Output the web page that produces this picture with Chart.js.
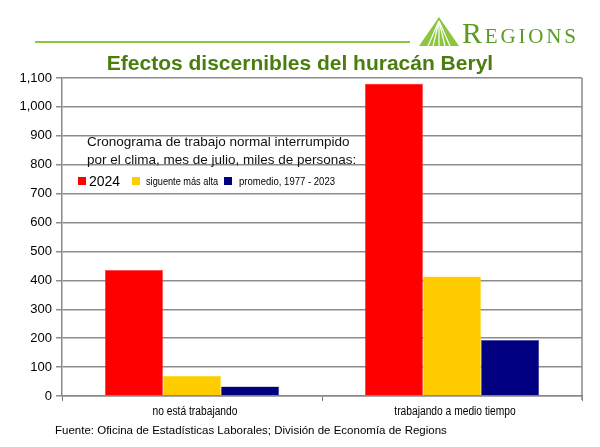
<!DOCTYPE html>
<html><head><meta charset="utf-8">
<script src="https://cdn.jsdelivr.net/npm/chart.js@4"></script>
<style>
html,body{margin:0;padding:0;background:#fff;}
#wrap{position:relative;width:600px;height:447px;overflow:hidden;font-family:"Liberation Sans",Arial,sans-serif;}
canvas{position:absolute;left:0;top:0;}
.abs{position:absolute;white-space:nowrap;line-height:1;}
.narrow{transform-origin:0 50%;}
.sq{position:absolute;width:8px;height:8px;}
</style></head>
<body><div id="wrap">
<canvas id="c" width="600" height="447"></canvas>
<div class="abs" style="left:35px;top:41px;width:375px;height:2px;background:#8cc63f;"></div>
<svg class="abs" style="left:418px;top:15px;" width="42" height="32" viewBox="0 0 42 32">
  <polygon points="1,31 21,2 41,31" fill="#8cc63f"/>
  <g stroke="#fff" stroke-width="1.2">
    <line x1="21" y1="6" x2="10" y2="31"/><line x1="21" y1="6" x2="15" y2="31"/>
    <line x1="21" y1="6" x2="21" y2="31"/><line x1="21" y1="6" x2="27" y2="31"/>
    <line x1="21" y1="6" x2="32" y2="31"/>
  </g>
</svg>
<div class="abs" style="left:462px;top:18px;font-family:'Liberation Serif','DejaVu Serif',serif;font-variant:small-caps;font-size:30px;color:#5c9b22;letter-spacing:2.8px;">Regions</div>
<div class="abs" id="title" style="left:0;width:600px;text-align:center;top:52px;font-weight:bold;font-size:21px;color:#4a7d0e;">Efectos discernibles del huracán Beryl</div>
<div class="abs" style="left:87px;top:133px;width:262px;text-align:center;font-size:13.5px;line-height:18px;color:#111;">Cronograma de trabajo normal interrumpido<br>por el clima, mes de julio, miles de personas:</div>
<div class="sq" style="left:78px;top:177px;background:#ff0000;"></div>
<div class="abs" style="left:89px;top:174px;font-size:14px;color:#000;">2024</div>
<div class="sq" style="left:132px;top:177px;background:#ffcc00;"></div>
<div class="abs narrow" style="left:146px;top:176px;font-size:11.5px;color:#000;transform:scaleX(0.8);">siguente más alta</div>
<div class="sq" style="left:224px;top:177px;background:#000080;"></div>
<div class="abs narrow" style="left:239px;top:176px;font-size:11.5px;color:#000;transform:scaleX(0.83);">promedio, 1977 - 2023</div>
<div class="abs" style="left:55px;top:425px;font-size:11.5px;color:#000;">Fuente: Oficina de Estadísticas Laborales; División de Economía de Regions</div>
</div>
<script>
const categories = ["no está trabajando", "trabajando a medio tiempo"];
const seriesNames = ["2024", "siguente más alta", "promedio, 1977 - 2023"];
const values2024 = [436, 1080];
const valuesNext = [70, 413];
const valuesAvg = [33, 194];
const yTicks = [0, 100, 200, 300, 400, 500, 600, 700, 800, 900, 1000, 1100];

const extras = {
  id: 'extras',
  afterDraw(chart) {
    const {ctx, chartArea: a} = chart;
    ctx.save();
    ctx.strokeStyle = '#888';
    ctx.lineWidth = 1.5;
    ctx.beginPath();
    ctx.moveTo(a.right, a.top);
    ctx.lineTo(a.right, a.bottom + 4);
    ctx.stroke();
    // condensed category labels
    const xs = chart.scales.x;
    ctx.fillStyle = '#000';
    ctx.font = '12.5px "Liberation Sans", sans-serif';
    ctx.textAlign = 'center';
    ctx.textBaseline = 'middle';
    categories.forEach((lab, i) => {
      const px = xs.getPixelForValue(i);
      ctx.save();
      ctx.translate(px + 3, a.bottom + 16);
      ctx.scale(0.82, 1);
      ctx.fillText(lab, 0, 0);
      ctx.restore();
    });
    ctx.restore();
  }
};

new Chart(document.getElementById('c'), {
  type: 'bar',
  data: {
    labels: categories,
    datasets: [
      {label: seriesNames[0], data: values2024, backgroundColor: '#ff0000', borderColor: '#ff5050', borderWidth: 0.5},
      {label: seriesNames[1], data: valuesNext, backgroundColor: '#ffcc00', borderColor: '#ffe060', borderWidth: 0.5},
      {label: seriesNames[2], data: valuesAvg, backgroundColor: '#000080', borderColor: '#5050a0', borderWidth: 0.5}
    ]
  },
  options: {
    responsive: false,
    animation: false,
    layout: {padding: {left: 0, right: 18, top: 78, bottom: 0}},
    plugins: {legend: {display: false}, tooltip: {enabled: false}},
    datasets: {bar: {categoryPercentage: 0.67, barPercentage: 1.0}},
    scales: {
      x: {
        offset: true,
        grid: {display: true, drawOnChartArea: false, color: '#777', tickLength: 5, offset: true},
        border: {color: '#888', width: 1.5},
        ticks: {display: false},
        afterFit(s) { s.height = 51; }
      },
      y: {
        min: 0, max: 1100,
        afterBuildTicks(s) { s.ticks = yTicks.map(v => ({value: v})); },
        grid: {color: '#8c8c8c', lineWidth: 1.5, tickLength: 6},
        border: {color: '#888', width: 1.5},
        ticks: {color: '#000', padding: 4, font: {family: '"Liberation Sans",sans-serif', size: 13},
          callback: v => v.toLocaleString('en-US')},
        afterFit(s) { s.width = 62; }
      }
    }
  },
  plugins: [extras]
});
</script>
</body></html>
